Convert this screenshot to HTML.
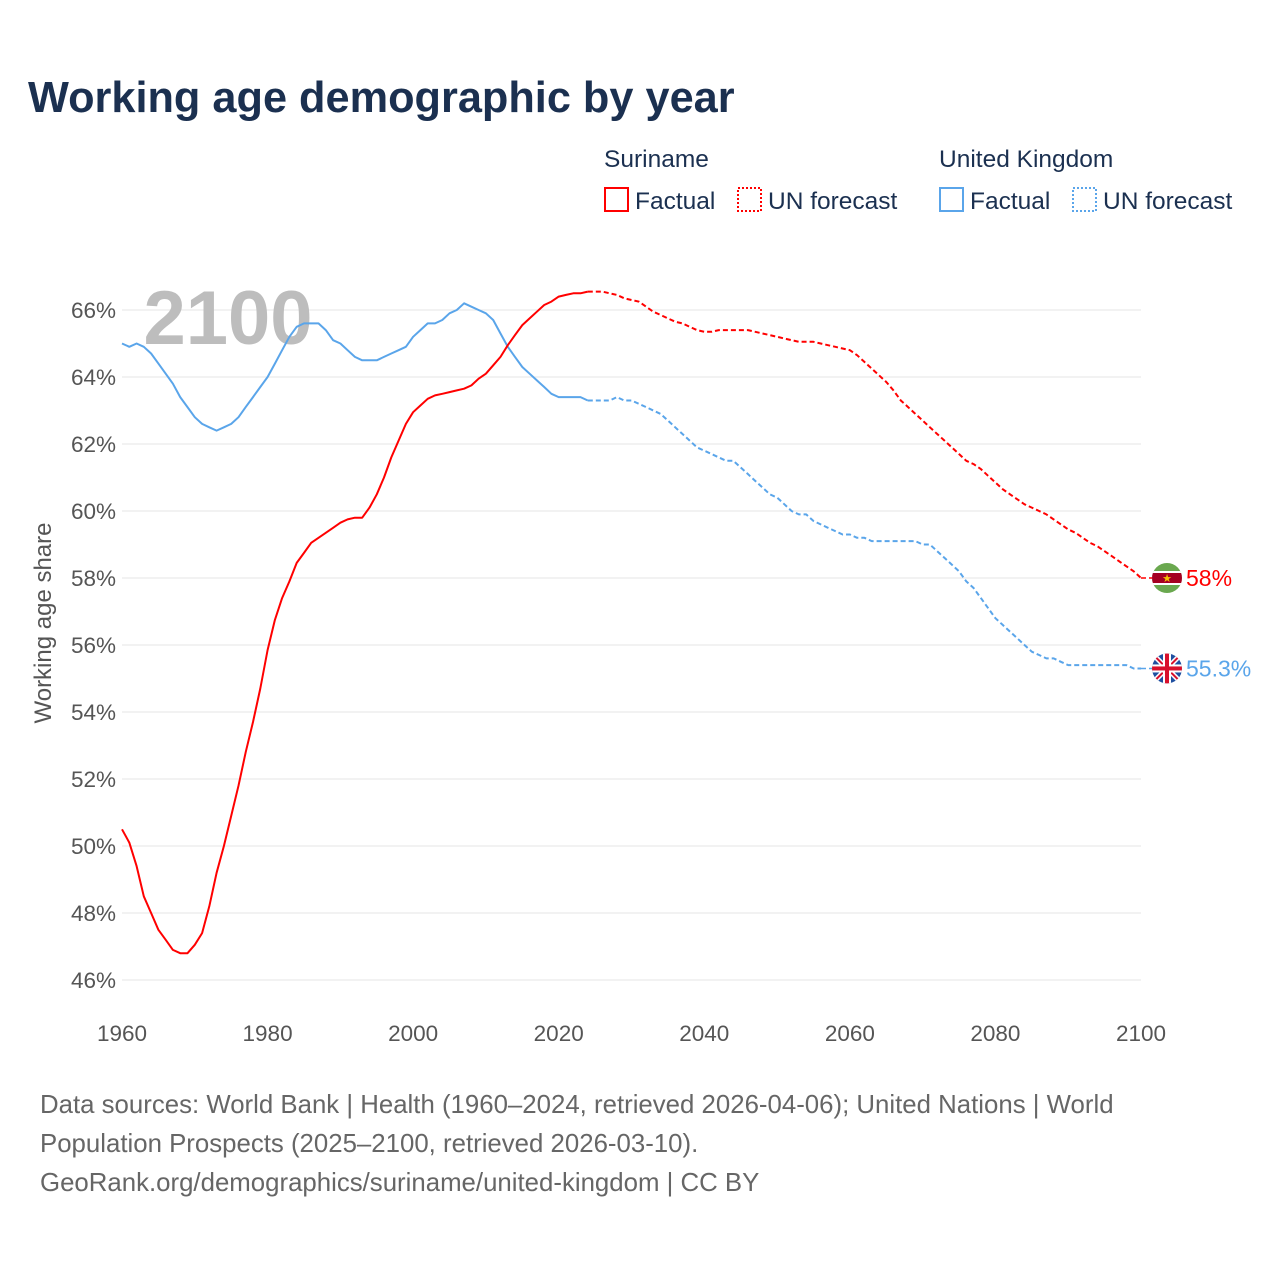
<!DOCTYPE html>
<html><head><meta charset="utf-8">
<style>
body{margin:0;background:#fff;font-family:"Liberation Sans",sans-serif;}
#wrap{position:relative;width:1280px;height:1280px;overflow:hidden;}
</style></head>
<body>
<div id="wrap">
<svg id="chart" width="1280" height="1280"></svg>
</div>
<script>
const years1 = []; for (let y = 1960; y <= 2024; y++) years1.push(y);
const years2 = []; for (let y = 2024; y <= 2100; y++) years2.push(y);
const surFact = [50.5,50.1,49.4,48.5,48.0,47.5,47.2,46.9,46.8,46.8,47.05,47.4,48.2,49.2,50.0,50.9,51.8,52.8,53.7,54.7,55.85,56.75,57.4,57.9,58.45,58.75,59.05,59.2,59.35,59.5,59.65,59.75,59.8,59.8,60.1,60.5,61.0,61.6,62.1,62.6,62.95,63.15,63.35,63.45,63.5,63.55,63.6,63.65,63.75,63.95,64.1,64.35,64.6,64.95,65.25,65.55,65.75,65.95,66.15,66.25,66.4,66.45,66.5,66.5,66.55];
const surFc = [66.55,66.55,66.55,66.5,66.45,66.35,66.3,66.25,66.1,65.95,65.85,65.75,65.65,65.6,65.5,65.4,65.35,65.35,65.4,65.4,65.4,65.4,65.4,65.35,65.3,65.25,65.2,65.15,65.1,65.05,65.05,65.05,65.0,64.95,64.9,64.85,64.8,64.65,64.45,64.25,64.05,63.85,63.6,63.3,63.1,62.9,62.7,62.5,62.3,62.1,61.9,61.7,61.5,61.4,61.25,61.05,60.85,60.65,60.5,60.35,60.2,60.1,60.0,59.9,59.75,59.6,59.45,59.35,59.2,59.05,58.95,58.8,58.65,58.5,58.35,58.2,58.0];
const ukFact = [65.0,64.9,65.0,64.9,64.7,64.4,64.1,63.8,63.4,63.1,62.8,62.6,62.5,62.4,62.5,62.6,62.8,63.1,63.4,63.7,64.0,64.4,64.8,65.2,65.5,65.6,65.6,65.6,65.4,65.1,65.0,64.8,64.6,64.5,64.5,64.5,64.6,64.7,64.8,64.9,65.2,65.4,65.6,65.6,65.7,65.9,66.0,66.2,66.1,66.0,65.9,65.7,65.3,64.9,64.6,64.3,64.1,63.9,63.7,63.5,63.4,63.4,63.4,63.4,63.3];
const ukFc = [63.3,63.3,63.3,63.3,63.4,63.3,63.3,63.2,63.1,63.0,62.9,62.7,62.5,62.3,62.1,61.9,61.8,61.7,61.6,61.5,61.5,61.3,61.1,60.9,60.7,60.5,60.4,60.2,60.0,59.9,59.9,59.7,59.6,59.5,59.4,59.3,59.3,59.2,59.2,59.1,59.1,59.1,59.1,59.1,59.1,59.1,59.0,59.0,58.8,58.6,58.4,58.2,57.9,57.7,57.4,57.1,56.8,56.6,56.4,56.2,56.0,55.8,55.7,55.6,55.6,55.5,55.4,55.4,55.4,55.4,55.4,55.4,55.4,55.4,55.4,55.3,55.3];
const yTicks = [46,48,50,52,54,56,58,60,62,64,66];
const xTicks = [1960,1980,2000,2020,2040,2060,2080,2100];

const NS = "http://www.w3.org/2000/svg";
const svg = document.getElementById('chart');
const X = y => 122 + (y - 1960) * (1141 - 122) / 140;
const Y = v => 310 + (66 - v) * 33.5;
function mk(tag, attrs, parent, text) {
  const e = document.createElementNS(NS, tag);
  for (const k in attrs) e.setAttribute(k, attrs[k]);
  if (text !== undefined) e.textContent = text;
  (parent || svg).appendChild(e);
  return e;
}
const FONT = '"Liberation Sans", sans-serif';

let t = mk('text', {x:28, y:112, 'font-size':43.3, 'font-weight':'bold', fill:'#1b3050', 'font-family':FONT}, svg, 'Working age demographic by year');
 

function legendGroup(x, label, color) {
  const g = mk('g', {});
  
  
  mk('text', {x:x, y:167, 'font-size':24.5, fill:'#1b3050', 'font-family':FONT}, g, label);
  mk('rect', {x:x+1, y:188, width:23, height:23, fill:'none', stroke:color, 'stroke-width':2}, g);
  mk('text', {x:x+31, y:209, 'font-size':24.5, fill:'#1b3050', 'font-family':FONT}, g, 'Factual');
  mk('rect', {x:x+134, y:188, width:23, height:23, fill:'none', stroke:color, 'stroke-width':2, 'stroke-dasharray':'2 2'}, g);
  mk('text', {x:x+164, y:209, 'font-size':24.5, fill:'#1b3050', 'font-family':FONT}, g, 'UN forecast');
}
legendGroup(604, 'Suriname', '#ff0000');
legendGroup(939, 'United Kingdom', '#5aa5ea');

yTicks.forEach(v => {
  const l = mk('line', {x1:122, x2:1141, y1:Y(v), y2:Y(v), stroke:'#e6e6e6', 'stroke-width':1});
   
  const tx = mk('text', {x:116, y:Y(v)+8, 'font-size':22.5, fill:'#555', 'text-anchor':'end', 'font-family':FONT}, svg, v + '%');
   
});
xTicks.forEach(y => {
  const tx = mk('text', {x:X(y), y:1041, 'font-size':22.5, fill:'#555', 'text-anchor':'middle', 'font-family':FONT}, svg, String(y));
   
});
t = mk('text', {x:0, y:0, 'font-size':24, fill:'#555', 'text-anchor':'middle', 'font-family':FONT, transform:'translate(51,623) rotate(-90)'}, svg, 'Working age share');
 

t = mk('text', {x:228, y:344, 'font-size':76, 'font-weight':'bold', fill:'#bdbdbd', 'text-anchor':'middle', 'font-family':FONT}, svg, '2100');
 

function line(xs, vs, color, dash, name) {
  const d = vs.map((v,i) => (i ? 'L' : 'M') + X(xs[i]).toFixed(1) + ',' + Y(v).toFixed(1)).join('');
  const p = mk('path', {d:d, fill:'none', stroke:color, 'stroke-width':2, 'stroke-linejoin':'round'});
  if (dash) p.setAttribute('stroke-dasharray', '5 3');
   
}
line(years1, ukFact, '#5aa5ea', false, 'uk-factual-line');
line(years2, ukFc, '#5aa5ea', true, 'uk-forecast-line');
line(years1, surFact, '#ff0000', false, 'suriname-factual-line');
line(years2, surFc, '#ff0000', true, 'suriname-forecast-line');

const sv = surFc[surFc.length-1], uv = ukFc[ukFc.length-1];
const cx = 1167, sy = Y(sv), uy = Y(uv);
let c = mk('line', {x1:1141, x2:1152, y1:sy, y2:sy, stroke:'#ff0000', 'stroke-width':1.5, 'stroke-dasharray':'5 3'});
 
c = mk('line', {x1:1141, x2:1152, y1:uy, y2:uy, stroke:'#5aa5ea', 'stroke-width':1.5, 'stroke-dasharray':'5 3'});
 

let g = mk('g', {});  
mk('clipPath', {id:'c1'}, svg); mk('circle', {cx:cx, cy:sy, r:15}, svg.lastChild);
const fg = mk('g', {'clip-path':'url(#c1)'}, g);
mk('rect', {x:cx-15, y:sy-15, width:30, height:30, fill:'#6aa84f'}, fg);
mk('rect', {x:cx-15, y:sy-7, width:30, height:14, fill:'#fff'}, fg);
mk('rect', {x:cx-15, y:sy-5, width:30, height:10, fill:'#a50021'}, fg);
mk('text', {x:cx, y:sy+4, 'font-size':11, fill:'#f5c000', 'text-anchor':'middle'}, fg, '★');
t = mk('text', {x:1186, y:sy+8, 'font-size':23, fill:'#ff0000', 'font-family':FONT}, svg, sv + '%');
 

g = mk('g', {});  
mk('clipPath', {id:'c2'}, svg); mk('circle', {cx:cx, cy:uy, r:15}, svg.lastChild);
const ug = mk('g', {'clip-path':'url(#c2)'}, g);
mk('rect', {x:cx-15, y:uy-15, width:30, height:30, fill:'#1f4fa0'}, ug);
mk('line', {x1:cx-15, y1:uy-15, x2:cx+15, y2:uy+15, stroke:'#fff', 'stroke-width':5}, ug);
mk('line', {x1:cx+15, y1:uy-15, x2:cx-15, y2:uy+15, stroke:'#fff', 'stroke-width':5}, ug);
mk('line', {x1:cx-15, y1:uy-15, x2:cx+15, y2:uy+15, stroke:'#d8102c', 'stroke-width':2}, ug);
mk('line', {x1:cx+15, y1:uy-15, x2:cx-15, y2:uy+15, stroke:'#d8102c', 'stroke-width':2}, ug);
mk('rect', {x:cx-15, y:uy-4, width:30, height:8, fill:'#fff'}, ug);
mk('rect', {x:cx-4, y:uy-15, width:8, height:30, fill:'#fff'}, ug);
mk('rect', {x:cx-15, y:uy-2, width:30, height:4, fill:'#d8102c'}, ug);
mk('rect', {x:cx-2, y:uy-15, width:4, height:30, fill:'#d8102c'}, ug);
t = mk('text', {x:1186, y:uy+8, 'font-size':23, fill:'#5aa5ea', 'font-family':FONT}, svg, uv + '%');
 

const foot = ['Data sources: World Bank | Health (1960–2024, retrieved 2026-04-06); United Nations | World','Population Prospects (2025–2100, retrieved 2026-03-10).','GeoRank.org/demographics/suriname/united-kingdom | CC BY'];
foot.forEach((s,i) => {
  const f = mk('text', {x:40, y:1113 + i*39, 'font-size':25.8, fill:'#666', 'font-family':FONT}, svg, s);
   
});
</script>
</body></html>
